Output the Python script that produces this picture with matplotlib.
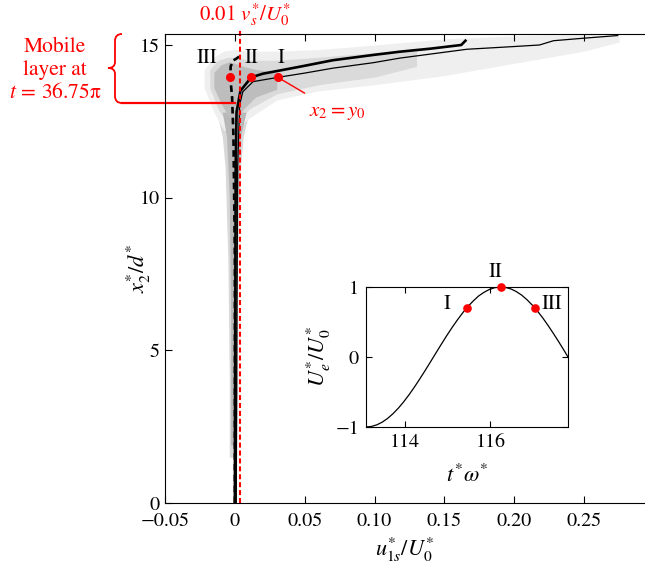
import numpy as np
import matplotlib
matplotlib.use("Agg")
import matplotlib.pyplot as plt
from matplotlib.path import Path
from matplotlib.patches import PathPatch

plt.rcParams['font.family'] = ['STIXGeneral', 'DejaVu Serif']
plt.rcParams['mathtext.fontset'] = 'stix'
plt.rcParams['font.size'] = 14.5

# ---- profiles u1s*/U0* vs x2*/d* ----
# I : thin solid
x_I = [0.001, 0.0015, 0.002, 0.0034, 0.0057, 0.013, 0.0308, 0.05, 0.07, 0.099,
       0.118, 0.166, 0.20, 0.218, 0.228, 0.249, 0.274]
y_I = [0.0, 6.0, 11.0, 13.04, 13.47, 13.8, 13.94, 14.08, 14.24, 14.42,
       14.57, 14.86, 14.95, 15.0, 15.14, 15.22, 15.31]
# II : thick solid
x_II = [0.0, 0.0003, 0.0006, 0.0012, 0.004, 0.0117, 0.02, 0.034, 0.05, 0.07,
        0.10, 0.118, 0.14, 0.162, 0.165]
y_II = [0.0, 6.0, 11.0, 12.8, 13.5, 13.94, 14.06, 14.18, 14.32, 14.5,
        14.68, 14.78, 14.88, 15.0, 15.14]
# III : thick dashed
x_III = [0.0, 0.0, -0.001, -0.002, -0.0033, -0.003, -0.001, 0.001, 0.003]
y_III = [0.0, 8.0, 12.0, 13.3, 13.94, 14.3, 14.5, 14.55, 14.62]

# points where x2 = y0
dot_x = [0.0308, 0.0117, -0.0033]
dot_y = [13.94, 13.94, 13.94]
phase_names = ['I', 'II', 'III']
name_x = [0.033, 0.0117, -0.020]
name_y = [14.57, 14.57, 14.57]

vs_line = 0.0034      # 0.01 vs*/U0*
mobile_top = 13.1     # top of the mobile layer

# ---- grey cloud of particle velocities (envelopes) ----
col_y = [1.5, 4.0, 8.0, 11.0, 12.0, 12.8]
col_lo = [-0.004, -0.004, -0.005, -0.007, -0.009, -0.013]
col_hi = [0.001, 0.002, 0.002, 0.004, 0.006, 0.010]
colc_y = [1.9, 6.0, 10.0, 12.0, 12.8]
colc_lo = [-0.003, -0.003, -0.004, -0.006, -0.009]
colc_hi = [0.001, 0.001, 0.002, 0.004, 0.008]

band_x = [-0.022, -0.015, -0.008, 0.0, 0.01, 0.03, 0.06, 0.10, 0.15, 0.20, 0.25, 0.275]
band_lo = [13.6, 12.8, 12.2, 12.2, 12.6, 13.2, 13.5, 13.7, 14.0, 14.4, 14.8, 15.1]
band_hi = [14.2, 14.6, 14.8, 14.85, 14.8, 14.8, 14.85, 15.0, 15.2, 15.3, 15.35, 15.3]
mid_x = [-0.018, -0.012, -0.005, 0.0, 0.01, 0.03, 0.06, 0.10, 0.13]
mid_lo = [13.6, 12.9, 12.4, 12.3, 12.9, 13.4, 13.7, 13.95, 14.3]
mid_hi = [14.2, 14.5, 14.6, 14.6, 14.5, 14.5, 14.6, 14.75, 14.8]
core_x = [-0.015, -0.01, -0.004, 0.0, 0.006, 0.015, 0.03]
core_lo = [13.6, 13.1, 12.6, 12.5, 12.9, 13.3, 13.55]
core_hi = [14.1, 14.35, 14.45, 14.4, 14.3, 14.2, 14.1]

xticks = [-0.05, 0, 0.05, 0.10, 0.15, 0.20, 0.25]
xticklabels = ['\u22120.05', '0', '0.05', '0.10', '0.15', '0.20', '0.25']
yticks = [0, 5, 10, 15]

# ---- inset: free stream velocity U_e*/U0* vs t*w* ----
t_in = [113.100, 113.225, 113.350, 113.475, 113.600, 113.725, 113.850, 113.975,
        114.100, 114.225, 114.350, 114.475, 114.600, 114.725, 114.850, 114.975,
        115.100, 115.225, 115.350, 115.475, 115.600, 115.725, 115.850, 115.975,
        116.100, 116.240, 116.350, 116.475, 116.600, 116.725, 116.850, 116.975,
        117.100, 117.225, 117.350, 117.475, 117.600, 117.725, 117.810]
ue_in = [-1.000, -0.992, -0.969, -0.931, -0.878, -0.811, -0.732, -0.641,
         -0.540, -0.431, -0.315, -0.195, -0.071, 0.054, 0.178, 0.300,
         0.416, 0.526, 0.628, 0.722, 0.801, 0.872, 0.924, 0.965,
         0.990, 1.000, 0.994, 0.973, 0.936, 0.886, 0.820, 0.742,
         0.654, 0.555, 0.446, 0.331, 0.211, 0.087, 0.000]
t_ph = [115.45, 116.24, 117.03]
ue_ph = [0.707, 1.0, 0.707]
ph_lab_t = [115.0, 116.12, 117.43]
ph_lab_u = [0.76, 1.21, 0.76]

RED = '#ff0000'
W, H = 645, 570
fig = plt.figure(figsize=(6.45, 5.70), dpi=100)
ax = fig.add_axes([165 / W, 1 - 503 / H, 480 / W, 469 / H])

# cloud
ax.fill_betweenx(col_y, col_lo, col_hi, color='#d8d8d8', lw=0)
ax.fill_between(band_x, band_lo, band_hi, color='#efefef', lw=0)
ax.fill_between(mid_x, mid_lo, mid_hi, color='#dadada', lw=0)
ax.fill_betweenx(colc_y, colc_lo, colc_hi, color='#b8b8b8', lw=0)
ax.fill_between(core_x, core_lo, core_hi, color='#bdbdbd', lw=0)

ax.plot(x_I, y_I, color='k', lw=0.9)
ax.plot(x_II, y_II, color='k', lw=1.9)
ax.plot(x_III, y_III, color='k', lw=1.9, dashes=(2.5, 1.6))
ax.plot([vs_line, vs_line], [0, 15.55], color=RED, lw=1.5, dashes=(2.4, 1.4),
        clip_on=False)
ax.plot([-0.0805, 0.0], [mobile_top, mobile_top], color=RED, lw=1.6, clip_on=False)
ax.plot(dot_x, dot_y, 'o', color=RED, ms=5.5, zorder=5)
for nx, ny, nm in zip(name_x, name_y, phase_names):
    ax.text(nx, ny, nm, ha='center', va='center', fontsize=15)

ax.annotate(r'$x_2 = y_0$', xy=(dot_x[0], dot_y[0]), xytext=(0.073, 12.8),
            color=RED, fontsize=15, ha='center', va='center',
            arrowprops=dict(arrowstyle='-', color=RED, lw=1.0,
                            shrinkA=9, shrinkB=0))

ax.set_xlim(-0.05, 0.2935)
ax.set_ylim(0, 15.36)
ax.set_xticks(xticks)
ax.set_xticklabels(xticklabels)
ax.set_yticks(yticks)
ax.tick_params(direction='in', length=5, width=0.8, top=True, pad=4)
ax.tick_params(axis='x', pad=7)
ax.spines['right'].set_visible(False)
ax.set_xlabel(r'$u_{1s}^{*}/U_0^{*}$', fontsize=16, labelpad=4)
ax.set_ylabel(r'$x_2^{*}/d^{*}$', fontsize=16)
ax.yaxis.set_label_coords(-0.026, 0.5)

# annotations outside the axes
fig.text(245 / W, 1 - 15 / H, r'0.01 $v_s^{*}/U_0^{*}$', color=RED,
         ha='center', va='center', fontsize=15)
fig.text(55 / W, 1 - 70 / H, 'Mobile\nlayer at\n$t\\,=\\,36.75$\u03c0', color=RED,
         ha='center', va='center', fontsize=15.5, linespacing=1.2)

# curly brace
def fx(p):
    return p / W

def fy(p):
    return 1 - p / H

bx0, bx1, bx2 = 108, 115, 122
by0, bym, by1 = 34, 68, 103
verts = [(bx2, by0), (bx1, by0), (bx1, by0 + 7),
         (bx1, bym - 6),
         (bx1, bym), (bx0, bym),
         (bx1, bym), (bx1, bym + 6),
         (bx1, by1 - 7),
         (bx1, by1), (bx2, by1)]
codes = [Path.MOVETO, Path.CURVE3, Path.CURVE3, Path.LINETO,
         Path.CURVE3, Path.CURVE3, Path.CURVE3, Path.CURVE3,
         Path.LINETO, Path.CURVE3, Path.CURVE3]
brace = Path([(fx(a), fy(b)) for a, b in verts], codes)
fig.patches.append(PathPatch(brace, transform=fig.transFigure, fill=False,
                             edgecolor=RED, lw=1.3))

# inset
axi = fig.add_axes([366 / W, 1 - 427 / H, 202 / W, 140 / H])
axi.plot(t_in, ue_in, color='k', lw=0.9)
axi.plot(t_ph, ue_ph, 'o', color=RED, ms=5.2, clip_on=False, zorder=5)
for tl, ul, nm in zip(ph_lab_t, ph_lab_u, phase_names):
    axi.text(tl, ul, nm, ha='center', va='center', fontsize=15)
axi.set_xlim(113.097, 117.81)
axi.set_ylim(-1, 1)
axi.set_xticks([114, 116])
axi.set_yticks([-1, 0, 1])
axi.set_yticklabels(['\u22121', '0', '1'])
axi.tick_params(direction='in', length=4, width=0.8, top=True, right=True, pad=5)
axi.set_xlabel(r'$t^{*}\omega^{*}$', fontsize=16, labelpad=10)
axi.set_ylabel(r'$U_e^{*}/U_0^{*}$', fontsize=16, labelpad=2)

fig.savefig('out.png', dpi=100)
